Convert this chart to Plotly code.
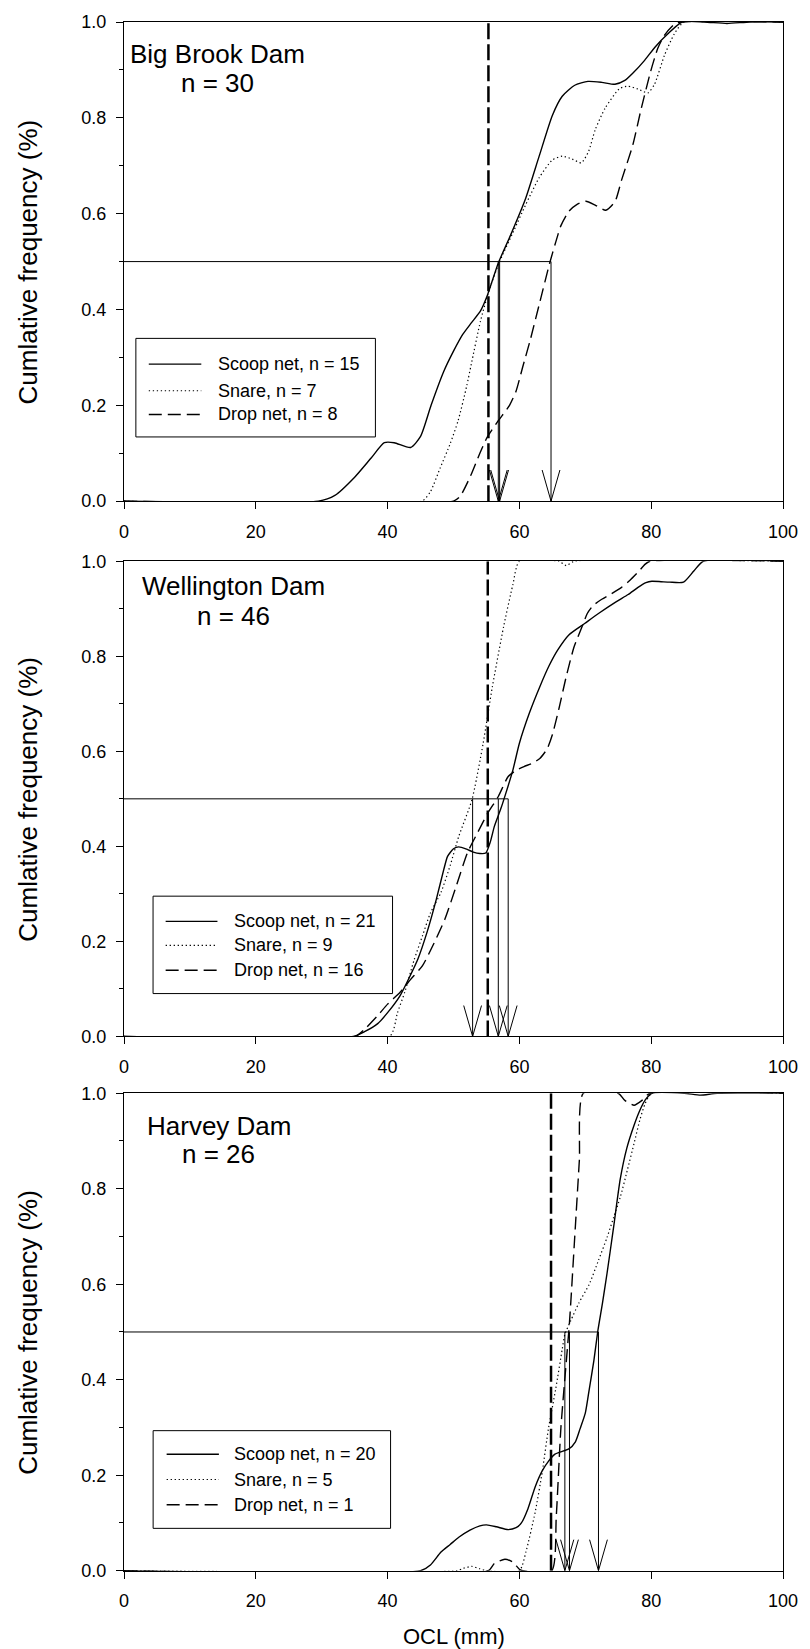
import plotly.graph_objects as go

FONT = "Liberation Sans, Arial, Helvetica, sans-serif"

# ---------------- data ----------------
site_names = ["Big Brook Dam", "Wellington Dam", "Harvey Dam"]
site_n = ["n = 30", "n = 46", "n = 26"]
legend_labels = [
    ["Scoop net, n = 15", "Snare, n = 7", "Drop net, n = 8"],
    ["Scoop net, n = 21", "Snare, n = 9", "Drop net, n = 16"],
    ["Scoop net, n = 20", "Snare, n = 5", "Drop net, n = 1"],
]
x_ticks = [0, 20, 40, 60, 80, 100]
y_ticks = [0.0, 0.2, 0.4, 0.6, 0.8, 1.0]

# Big Brook Dam
bb_scoop_x = [0, 29.5, 32, 35, 37.5, 39.5, 41, 43.5, 45, 46.6, 48.5, 50, 51.4, 52.7, 54.1, 55.1, 56.8, 58.5, 60.9, 63, 65, 66.5, 68.4, 70.4, 72.5, 74.5, 76, 77.2, 79, 80.6, 82.5, 84.7, 88, 91.5, 95, 100]
bb_scoop_y = [0, 0, 0.012, 0.05, 0.09, 0.122, 0.122, 0.112, 0.135, 0.2, 0.27, 0.313, 0.348, 0.372, 0.397, 0.428, 0.497, 0.55, 0.63, 0.72, 0.805, 0.845, 0.868, 0.876, 0.874, 0.870, 0.878, 0.893, 0.92, 0.948, 0.975, 1.0, 1.0, 0.997, 1.0, 1.0]
bb_snare_x = [0, 45.2, 46.5, 48, 49.5, 50.7, 52, 52.7, 54.1, 55.4, 57.0, 59, 61, 63, 65, 66.5, 68, 69.4, 70.5, 71.5, 73, 75.2, 76.5, 78, 79.5, 80.5, 82, 83.5, 85, 100]
bb_snare_y = [0, 0, 0.02, 0.07, 0.12, 0.168, 0.24, 0.286, 0.376, 0.44, 0.5, 0.56, 0.62, 0.675, 0.712, 0.72, 0.714, 0.706, 0.73, 0.775, 0.82, 0.861, 0.866, 0.86, 0.852, 0.87, 0.93, 0.975, 1.0, 1.0]
bb_drop_x = [0, 50, 51, 52.5, 54, 55.1, 56.8, 58.5, 59.5, 60.5, 61.6, 63, 64.6, 65.5, 66.3, 67.5, 68.7, 70.1, 71.5, 73.1, 74.5, 75.5, 77.2, 78.5, 79.9, 81, 82, 83.5, 84.5, 100]
bb_drop_y = [0, 0, 0.01, 0.05, 0.1, 0.133, 0.168, 0.2, 0.23, 0.28, 0.334, 0.41, 0.497, 0.54, 0.575, 0.605, 0.619, 0.626, 0.618, 0.607, 0.625, 0.67, 0.743, 0.82, 0.896, 0.945, 0.972, 0.995, 1.0, 1.0]
bb_medians = [56.8, 57.0, 64.8]      # scoop, snare, drop
bb_reference = 55.3

# Wellington Dam
wd_scoop_x = [0, 34.8, 36.5, 38.5, 40, 41.9, 43.5, 44.6, 46, 47.4, 48.5, 49.1, 50, 50.8, 52, 53, 54, 54.9, 55.6, 56.2, 57.2, 57.9, 59, 60, 61.5, 63.1, 64.5, 65.8, 67.5, 69.9, 72, 74.6, 76.5, 78, 79.2, 80.1, 81.5, 82.8, 84.9, 86.5, 87.9, 100]
wd_scoop_y = [0, 0, 0.01, 0.027, 0.05, 0.086, 0.13, 0.163, 0.22, 0.289, 0.35, 0.379, 0.395, 0.399, 0.394, 0.388, 0.385, 0.386, 0.41, 0.442, 0.48, 0.51, 0.56, 0.617, 0.68, 0.736, 0.78, 0.813, 0.845, 0.869, 0.89, 0.914, 0.93, 0.945, 0.955, 0.958, 0.957, 0.956, 0.956, 0.98, 1.0, 1.0]
wd_snare_x = [0, 40.3, 41.5, 42.6, 44, 45.3, 46.5, 48.1, 49.5, 50.8, 52.8, 54.5, 55.9, 57.6, 59, 60, 66, 67.1, 68.3, 100]
wd_snare_y = [0, 0, 0.05, 0.093, 0.16, 0.212, 0.26, 0.303, 0.36, 0.421, 0.498, 0.617, 0.736, 0.862, 0.95, 1.0, 1.0, 0.991, 1.0, 1.0]
wd_drop_x = [0, 35.1, 36.5, 38.5, 40, 41.9, 43.5, 45.3, 47, 48.7, 50.5, 52.1, 53.7, 55.2, 56.8, 58.3, 59.5, 60.7, 62, 63.1, 64.2, 65, 66, 67.1, 68.3, 69.5, 70.3, 71.2, 72.5, 74, 75.5, 76.7, 78, 79.1, 79.8, 100]
wd_drop_y = [0, 0, 0.015, 0.044, 0.068, 0.093, 0.12, 0.149, 0.195, 0.247, 0.32, 0.386, 0.43, 0.47, 0.505, 0.547, 0.56, 0.568, 0.575, 0.585, 0.605, 0.635, 0.69, 0.757, 0.82, 0.862, 0.89, 0.907, 0.92, 0.932, 0.945, 0.959, 0.977, 0.994, 1.0, 1.0]
wd_medians = [58.3, 52.9, 56.8]
wd_reference = 55.2

# Harvey Dam
hd_scoop_x = [0, 45, 46.5, 48.1, 49.5, 50.8, 52.5, 54, 55, 56.5, 58.3, 59.5, 60.3, 61.3, 62.4, 63.5, 64.4, 65.4, 66.5, 67.5, 68.5, 69.2, 70, 70.6, 71.3, 71.9, 72.6, 73.3, 74.3, 75.3, 76.3, 77.4, 78.3, 79.1, 80.1, 85, 87.5, 90, 100]
hd_scoop_y = [0, 0, 0.012, 0.039, 0.055, 0.07, 0.085, 0.094, 0.096, 0.092, 0.086, 0.09, 0.1, 0.13, 0.176, 0.21, 0.229, 0.244, 0.25, 0.255, 0.27, 0.297, 0.33, 0.38, 0.44, 0.502, 0.56, 0.623, 0.72, 0.82, 0.885, 0.933, 0.965, 0.986, 1.0, 1.0, 0.996, 1.0, 1.0]
hd_snare_x = [0, 50.5, 51.5, 52.8, 54, 55, 60, 61, 62.4, 63.5, 64.4, 65.5, 66.5, 66.9, 67.8, 69, 70.6, 72, 73.3, 74.3, 75.3, 76.4, 77.4, 78.3, 79.1, 80.1, 100]
hd_snare_y = [0, 0, 0.005, 0.009, 0.004, 0, 0, 0.04, 0.123, 0.21, 0.297, 0.38, 0.464, 0.495, 0.524, 0.56, 0.6, 0.65, 0.698, 0.74, 0.782, 0.84, 0.895, 0.945, 0.979, 1.0, 1.0]
hd_drop_x = [0, 55.3, 56.2, 57.8, 59, 60, 60.5, 64.9, 65.6, 66.3, 67.6, 68.4, 69.1, 69.7, 75, 76, 77.4, 78.6, 79.8, 100]
hd_drop_y = [0, 0, 0.015, 0.024, 0.018, 0.003, 0, 0, 0.115, 0.3, 0.52, 0.70, 0.86, 1.0, 1.0, 0.985, 0.975, 0.985, 1.0, 1.0]
hd_medians = [72.0, 66.9, 67.6]
hd_reference = 64.8

panels = [
    (bb_scoop_x, bb_scoop_y, bb_snare_x, bb_snare_y, bb_drop_x, bb_drop_y, bb_medians, bb_reference),
    (wd_scoop_x, wd_scoop_y, wd_snare_x, wd_snare_y, wd_drop_x, wd_drop_y, wd_medians, wd_reference),
    (hd_scoop_x, hd_scoop_y, hd_snare_x, hd_snare_y, hd_drop_x, hd_drop_y, hd_medians, hd_reference),
]

# ---------------- layout helpers (positions / styles) ----------------
W, H = 810, 1649
M_L, M_R, M_T, M_B = 124, 21, 17, 78
PH = H - M_T - M_B
panel_px = [(16.7, 497.7), (558.0, 1034.7), (1091.7, 1570.7)]  # top, bottom pixel rows


def py_to_paper(py):
    return 1 - (py - M_T) / PH


domains = [[max(0.0, py_to_paper(b)), min(1.0, py_to_paper(t))] for t, b in panel_px]

# title positions (data coords) and legend geometry (data coords)
title_pos = [(14.2, 0.934, 0.873), (16.6, 0.948, 0.885), (14.4, 0.932, 0.873)]
legend_geo = [
    # box x0, x1, y0, y1, sample x0, x1, text x, row ys
    (1.8, 38.15, 0.134, 0.3397, 3.76, 11.73, 13.94, [0.2859, 0.2304, 0.1809]),
    (4.41, 40.75, 0.0902, 0.2952, 6.32, 14.18, 16.35, [0.2421, 0.1917, 0.1393]),
    (4.42, 40.45, 0.0887, 0.2933, 6.47, 14.4, 16.33, [0.2440, 0.1910, 0.1380]),
]

styles = [
    dict(color="black", width=1.4, dash="solid"),
    dict(color="black", width=1.2, dash="1.3px,2.7px"),
    dict(color="black", width=1.4, dash="13px,6px"),
]

fig = go.Figure()
shapes = []
annotations = []

for i, (sx, sy, nx, ny, dx, dy, meds, ref) in enumerate(panels):
    sfx = "" if i == 0 else str(i + 1)
    xa, ya = "x" + sfx, "y" + sfx
    for (xx, yy), st in zip([(sx, sy), (nx, ny), (dx, dy)], styles):
        fig.add_trace(go.Scatter(x=xx, y=yy, mode="lines", xaxis=xa, yaxis=ya,
                                 line=dict(shape="spline", smoothing=0.6, **st),
                                 showlegend=False, hoverinfo="skip"))
    # horizontal 50% line
    fig.add_trace(go.Scatter(x=[0, max(meds)], y=[0.5, 0.5], mode="lines", xaxis=xa, yaxis=ya,
                             line=dict(color="black", width=1), showlegend=False, hoverinfo="skip"))
    # median drop lines with open arrowheads
    ax, ay = [], []
    for m in meds:
        ax += [m, m, None, m - 1.35, m, m + 1.35, None]
        ay += [0.5, 0.0, None, 0.065, 0.0, 0.065, None]
    fig.add_trace(go.Scatter(x=ax, y=ay, mode="lines", xaxis=xa, yaxis=ya,
                             line=dict(color="black", width=1), showlegend=False, hoverinfo="skip"))
    # thick dashed reference line
    fig.add_trace(go.Scatter(x=[ref, ref], y=[0, 1], mode="lines", xaxis=xa, yaxis=ya,
                             line=dict(color="black", width=2.5, dash="16px,5px"),
                             showlegend=False, hoverinfo="skip"))

    # site title
    tx, ty1, ty2 = title_pos[i]
    annotations.append(dict(x=tx, y=ty1, xref=xa, yref=ya, text=site_names[i], showarrow=False,
                            xanchor="center", yanchor="middle", font=dict(size=26, family=FONT, color="black")))
    annotations.append(dict(x=tx, y=ty2, xref=xa, yref=ya, text=site_n[i], showarrow=False,
                            xanchor="center", yanchor="middle", font=dict(size=26, family=FONT, color="black")))

    # legend box
    bx0, bx1, by0, by1, lx0, lx1, txx, rows = legend_geo[i]
    shapes.append(dict(type="rect", xref=xa, yref=ya, x0=bx0, x1=bx1, y0=by0, y1=by1,
                       line=dict(color="black", width=1), fillcolor="white", layer="below"))
    for r, st, lab in zip(rows, styles, legend_labels[i]):
        shapes.append(dict(type="line", xref=xa, yref=ya, x0=lx0, x1=lx1, y0=r, y1=r,
                           line=dict(color=st["color"], width=st["width"], dash=st["dash"])))
        annotations.append(dict(x=txx, y=r, xref=xa, yref=ya, text=lab, showarrow=False,
                                xanchor="left", yanchor="middle",
                                font=dict(size=18, family=FONT, color="black")))

    # y axis title
    d0, d1 = domains[i]
    annotations.append(dict(x=(27 - M_L) / (W - M_L - M_R), y=(d0 + d1) / 2, xref="paper", yref="paper",
                            text="Cumlative frequency (%)", textangle=-90, showarrow=False,
                            xanchor="center", yanchor="middle",
                            font=dict(size=26, family=FONT, color="black")))

annotations.append(dict(x=0.5, y=-(1637 - (H - M_B)) / PH, xref="paper", yref="paper",
                        text="OCL (mm)", showarrow=False, xanchor="center", yanchor="middle",
                        font=dict(size=22, family=FONT, color="black")))

axis_common = dict(showline=True, linecolor="black", linewidth=1, mirror=True,
                   showgrid=False, zeroline=False, ticks="outside", ticklen=7, tickwidth=1,
                   tickcolor="black", tickfont=dict(size=18, family=FONT, color="black"))

layout = dict(width=W, height=H, margin=dict(l=M_L, r=M_R, t=M_T, b=M_B),
              plot_bgcolor="white", paper_bgcolor="white", showlegend=False,
              shapes=shapes, annotations=annotations)

for i in range(3):
    sfx = "" if i == 0 else str(i + 1)
    layout["xaxis" + sfx] = dict(axis_common, domain=[0, 1], range=[0, 100], tickvals=x_ticks,
                                 anchor="y" + sfx, fixedrange=True, ticklabelstandoff=7)
    layout["yaxis" + sfx] = dict(axis_common, domain=domains[i], range=[0, 1], tickvals=y_ticks,
                                 tickformat=".1f", anchor="x" + sfx, fixedrange=True,
                                 tickfont=dict(size=18, family=FONT, color="black"),
                                 ticklabelstandoff=6,
                                 minor=dict(dtick=0.1, tick0=0, ticks="outside", ticklen=4,
                                            tickwidth=1, tickcolor="black"))

fig.update_layout(**layout)
fig.write_html("out.html", config={"displayModeBar": False},
               post_script="document.body.style.margin='0';document.body.style.overflow='hidden';")
